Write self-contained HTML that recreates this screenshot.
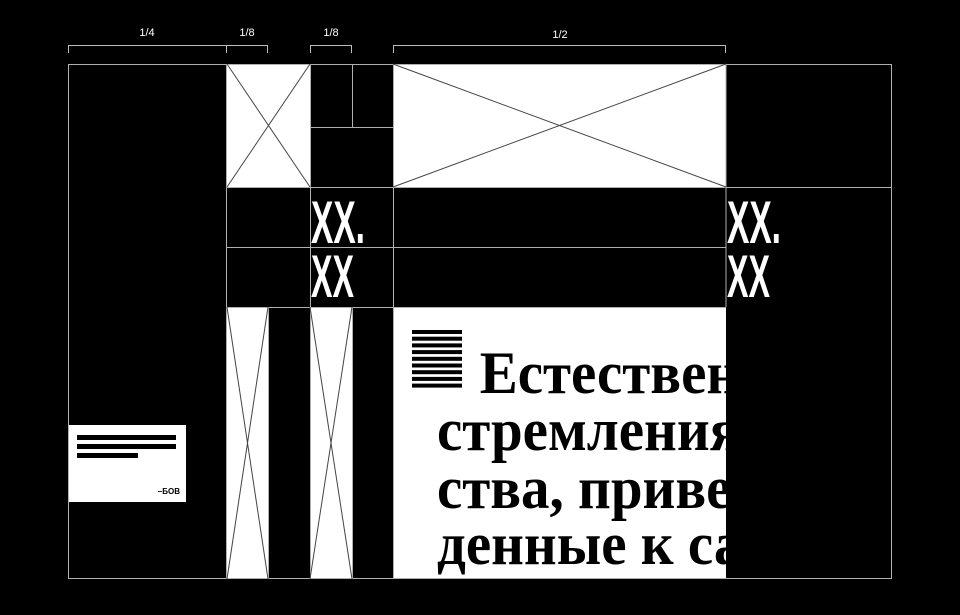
<!DOCTYPE html>
<html><head><meta charset="utf-8"><style>
html,body{margin:0;padding:0;background:#000;width:960px;height:615px;overflow:hidden}
</style></head><body>
<svg width="960" height="615" viewBox="0 0 960 615" xmlns="http://www.w3.org/2000/svg">
<rect width="960" height="615" fill="#000"/>
<g stroke="#bbb" stroke-width="1" fill="none">
<path d="M68.5 53V45.5H226.5V53M226.5 45.5H267.5V53"/>
<path d="M310.5 53V45.5H351.5V53"/>
<path d="M393.5 53V45.5H725.5V53"/>
</g>
<g fill="#fff" font-family="Liberation Sans, sans-serif" font-size="11" text-anchor="middle">
<text x="147" y="36">1/4</text>
<text x="247" y="36">1/8</text>
<text x="331" y="36">1/8</text>
<text x="560" y="38">1/2</text>
</g>
<g fill="#fff">
<rect x="227" y="64" width="83" height="123"/>
<rect x="393" y="64" width="333" height="123"/>
<rect x="227" y="307" width="41" height="272"/>
<rect x="310" y="307" width="42" height="272"/>
<rect x="393" y="307" width="333" height="272"/>
<rect x="68" y="425" width="118" height="77"/>
</g>
<g fill="#000">
<rect x="77" y="435" width="99" height="5"/>
<rect x="77" y="444" width="99" height="5"/>
<rect x="77" y="453" width="61" height="5"/>
</g>
<text x="180" y="494" text-anchor="end" font-family="Liberation Sans, sans-serif" font-weight="bold" font-size="8" fill="#000">–БОВ</text>
<g stroke="#b0b0b0" stroke-width="1" fill="none">
<rect x="68.5" y="64.5" width="823" height="514"/>
<line x1="226.5" y1="64" x2="226.5" y2="579"/>
<line x1="310.5" y1="64" x2="310.5" y2="579"/>
<line x1="393.5" y1="64" x2="393.5" y2="579"/>
<line x1="726" y1="64" x2="726" y2="307"/>
<line x1="352.5" y1="64" x2="352.5" y2="127"/>
<line x1="310" y1="127.5" x2="393" y2="127.5"/>
<line x1="227" y1="187.5" x2="892" y2="187.5"/>
<line x1="227" y1="247.5" x2="726" y2="247.5"/>
<line x1="227" y1="307.5" x2="726" y2="307.5"/>
<line x1="268.5" y1="307" x2="268.5" y2="579"/>
<line x1="352.5" y1="307" x2="352.5" y2="579"/>
</g>
<g stroke="#444" stroke-width="1">
<line x1="227" y1="64" x2="310" y2="187"/>
<line x1="310" y1="64" x2="227" y2="187"/>
<line x1="393" y1="64" x2="726" y2="187"/>
<line x1="726" y1="64" x2="393" y2="187"/>
<line x1="227" y1="307" x2="268" y2="579"/>
<line x1="268" y1="307" x2="227" y2="579"/>
<line x1="310" y1="307" x2="352" y2="579"/>
<line x1="352" y1="307" x2="310" y2="579"/>
</g>
<g fill="#fff" font-family="Liberation Sans, sans-serif" font-weight="bold" font-size="60">
<text x="311" y="243" textLength="54" lengthAdjust="spacingAndGlyphs">XX.</text>
<text x="311" y="297" textLength="43" lengthAdjust="spacingAndGlyphs">XX</text>
<text x="727" y="243" textLength="54" lengthAdjust="spacingAndGlyphs">XX.</text>
<text x="727" y="297" textLength="43" lengthAdjust="spacingAndGlyphs">XX</text>
</g>
<g fill="#000">
<rect x="412" y="330" width="50" height="4"/>
<rect x="412" y="336.7" width="50" height="4"/>
<rect x="412" y="343.4" width="50" height="4"/>
<rect x="412" y="350.1" width="50" height="4"/>
<rect x="412" y="356.8" width="50" height="4"/>
<rect x="412" y="363.5" width="50" height="4"/>
<rect x="412" y="370.2" width="50" height="4"/>
<rect x="412" y="376.9" width="50" height="4"/>
<rect x="412" y="383.6" width="50" height="4"/>
</g>
<clipPath id="c"><rect x="393" y="307" width="333" height="272"/></clipPath>
<g clip-path="url(#c)">
<g font-family="Liberation Serif, serif" font-weight="bold" font-size="60" fill="#000" transform="translate(437 0) scale(0.95 1) translate(-437 0)">
<text x="482" y="393">Естественные</text>
<text x="437" y="450">стремления</text>
<text x="437" y="508">ства, приве</text>
<text x="437" y="564">денные к са</text>
</g>
</g>
</svg>
</body></html>
